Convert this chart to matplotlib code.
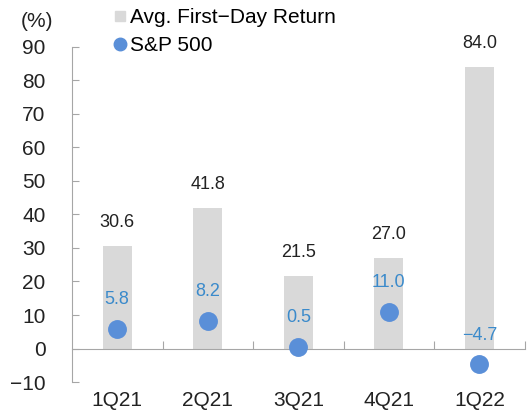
import matplotlib
matplotlib.use("Agg")
from matplotlib import pyplot as plt
from matplotlib.lines import Line2D
from matplotlib.transforms import blended_transform_factory
import numpy as np

quarters = ["1Q21", "2Q21", "3Q21", "4Q21", "1Q22"]
first_day_return = [30.6, 41.8, 21.5, 27.0, 84.0]
sp500 = [5.8, 8.2, 0.5, 11.0, -4.7]

bar_color = "#d9d9d9"
dot_color = "#5a8fd8"
label_blue = "#3a8acb"
axis_color = "#a6a6a6"

plt.rcParams["font.family"] = ["Liberation Sans", "DejaVu Sans"]

fig = plt.figure(figsize=(5.29, 4.18), dpi=100)
ax = fig.add_axes([0.136, 0.086, 0.856, 0.802])

x = np.arange(len(quarters))
ax.bar(x, first_day_return, width=0.32, color=bar_color, zorder=1)
ax.scatter(x, sp500, s=185, color=dot_color, zorder=3, linewidths=0)

for xi, v in zip(x, first_day_return):
    ax.annotate(f"{v:.1f}", (xi, v), xytext=(0, 17), textcoords="offset points",
                ha="center", va="center", fontsize=13, color="#222222")
for xi, v in zip(x, sp500):
    ax.annotate("\u2212" + f"{abs(v):.1f}" if v < 0 else f"{v:.1f}", (xi, v),
                xytext=(0, 21), textcoords="offset points",
                ha="center", va="center", fontsize=13, color=label_blue)

ax.set_xlim(-0.5, 4.5)
ax.set_ylim(-10, 90)
ax.set_yticks(np.arange(-10, 91, 10))
ax.set_yticklabels([("\u2212" + str(abs(t))) if t < 0 else str(t) for t in range(-10, 91, 10)])

for s in ["top", "right"]:
    ax.spines[s].set_visible(False)
ax.spines["left"].set_color(axis_color)
ax.spines["bottom"].set_color(axis_color)
ax.spines["bottom"].set_position(("data", 0))
ax.tick_params(axis="y", direction="in", length=5, color=axis_color, pad=19,
               labelsize=15, labelcolor="#222222")
ax.set_xticks(np.arange(0.5, 4.6, 1.0))
ax.set_xticklabels([])
ax.tick_params(axis="x", direction="in", length=6, color=axis_color)

trans = blended_transform_factory(ax.transData, ax.transAxes)
for xi, q in zip(x, quarters):
    ax.text(xi, -0.055, q, transform=trans, ha="center", va="center",
            fontsize=15, color="#222222")

fig.text(0.07, 0.948, "(%)", ha="center", va="center", fontsize=15, color="#222222")

handles = [
    Line2D([], [], marker="s", linestyle="none", markersize=7, color=bar_color),
    Line2D([], [], marker="o", linestyle="none", markersize=9, color=dot_color),
]
fig.legend(handles, ["Avg. First\u2212Day Return", "S&P 500"], loc="upper left",
           bbox_to_anchor=(0.207, 0.99), frameon=False, fontsize=15,
           handlelength=0.6, handletextpad=0.2, labelspacing=0.42,
           borderaxespad=0, borderpad=0.2)

fig.savefig("out.png", dpi=100)
